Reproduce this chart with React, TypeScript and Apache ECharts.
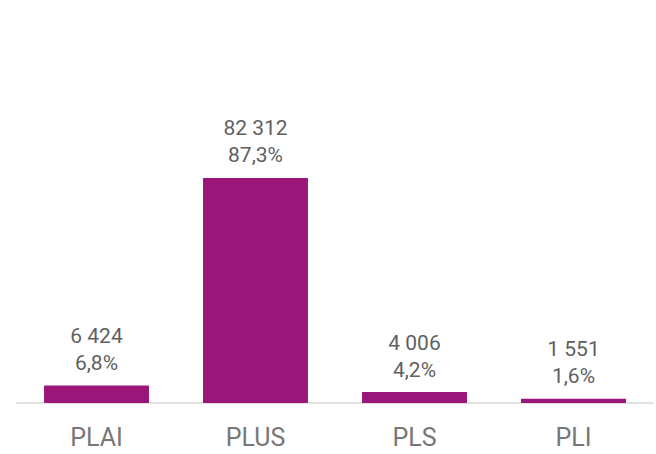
import React, { useEffect, useRef } from "react";
import * as echarts from "echarts";

const categories = ["PLAI", "PLUS", "PLS", "PLI"];
const values = [6424, 82312, 4006, 1551];
const percents = ["6,8%", "87,3%", "4,2%", "1,6%"];

function fmt(n: number): string {
  return String(n).replace(/\B(?=(\d{3})+(?!\d))/g, " ");
}

export default function App() {
  const ref = useRef<HTMLDivElement>(null);
  useEffect(() => {
    if (!ref.current) return;
    const chart = echarts.init(ref.current, null, { renderer: "svg" });
    chart.setOption({
      animation: false,
      backgroundColor: "#ffffff",
      grid: { left: 17, right: 3, top: 129.6, bottom: 51, containLabel: false },
      xAxis: {
        type: "category",
        data: categories,
        axisLine: { show: true, lineStyle: { color: "#d9d9d9", width: 1.5 } },
        axisTick: { show: false },
        axisLabel: {
          color: "#777777",
          fontSize: 25,
          fontFamily: "Roboto",
          margin: 22,
        },
      },
      yAxis: {
        type: "value",
        min: 0,
        max: 100000,
        show: false,
        splitLine: { show: false },
      },
      series: [
        {
          type: "bar",
          data: values,
          barWidth: "66%",
          itemStyle: { color: "#9b1679" },
          label: {
            show: true,
            position: "top",
            distance: 9,
            color: "#5f5f5f",
            fontSize: 21,
            fontWeight: 400,
            fontFamily: "Roboto",
            lineHeight: 27,
            formatter: (p: any) => fmt(p.value) + "\n" + percents[p.dataIndex],
          },
        },
      ],
    });
    return () => chart.dispose();
  }, []);
  return (
    <div
      ref={ref}
      style={{ position: "fixed", left: 0, top: 0, width: 656, height: 454 }}
    />
  );
}
